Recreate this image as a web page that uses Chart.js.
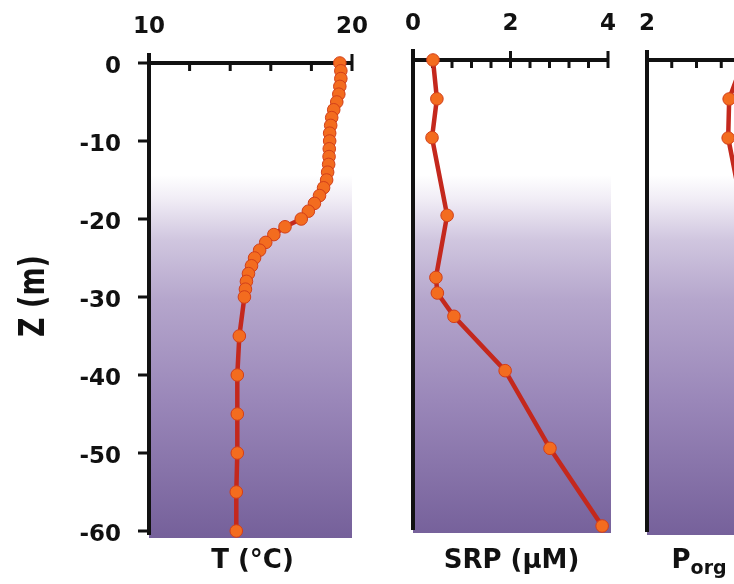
<!DOCTYPE html>
<html>
<head>
<meta charset="utf-8">
<script src="https://cdn.jsdelivr.net/npm/chart.js@4.4.0/dist/chart.umd.min.js"></script>
<style>
  html, body { margin: 0; padding: 0; background: #fff; width: 734px; height: 584px; overflow: hidden; }
  .panel { position: absolute; top: 0; }
</style>
</head>
<body>
<canvas id="tempChart" class="panel" style="left:0" width="380" height="584"></canvas>
<canvas id="srpChart" class="panel" style="left:380px" width="250" height="584"></canvas>
<canvas id="porgChart" class="panel" style="left:600px" width="300" height="584"></canvas>
<script>
// depth profiles (m, negative down)
const depthT = [0, -1, -2, -3, -4, -5, -6, -7, -8, -9, -10, -11, -12, -13, -14, -15, -16, -17, -18, -19, -20,
  -21, -22, -23, -24, -25, -26, -27, -28, -29, -30, -35, -40, -45, -50, -55, -60];
const tempC = [19.4, 19.45, 19.45, 19.4, 19.35, 19.25, 19.1, 19.0, 18.95, 18.9, 18.9, 18.88, 18.87, 18.85, 18.8,
  18.75, 18.6, 18.4, 18.15, 17.85, 17.5, 16.7, 16.15, 15.75, 15.45, 15.2, 15.05, 14.9, 14.8, 14.75, 14.7,
  14.45, 14.35, 14.35, 14.35, 14.3, 14.3];

const depthSRP = [0, -5, -10, -20, -28, -30, -33, -40, -50, -60];
const srpUM = [0.41, 0.49, 0.39, 0.70, 0.47, 0.50, 0.84, 1.89, 2.81, 3.88];

const depthPorg = [0, -5, -10, -20];
const porgUM = [3.95, 3.66, 3.64, 3.95];

const depthTicks = [0, -10, -20, -30, -40, -50, -60];
const tempTicks = [10, 12, 14, 16, 18, 20];
const tempLabels = [10, 20];
const srpTicks = [0, 0.4, 0.8, 1.2, 1.6, 2, 2.4, 2.8, 3.2, 3.6, 4];
const srpLabels = [0, 2, 4];
const porgTicks = [2, 2.5, 3, 3.5, 4, 4.5, 5, 5.5, 6];
const porgLabels = [2, 4, 6];

const FONT = 'DejaVu Sans';
const INK = '#111';
// background wash, by absolute canvas y
const bgStops = [[63, '#ffffff'], [175, '#ffffff'], [200, '#f0ecf5'], [240, '#d0c6df'],
  [300, '#b5a6cc'], [400, '#9a87b9'], [538, '#75609a']];

const profileFrame = {
  id: 'profileFrame',
  beforeDatasetsDraw(chart, args, opts) {
    const { ctx, chartArea: a, scales: { x, y } } = chart;
    ctx.save();
    const g = ctx.createLinearGradient(0, 0, 0, chart.height);
    bgStops.forEach(([yy, c]) => g.addColorStop(yy / chart.height, c));
    ctx.fillStyle = g;
    ctx.fillRect(a.left, a.top, a.right - a.left + opts.bgExtra, a.bottom - a.top);

    ctx.strokeStyle = INK;
    ctx.lineWidth = 4;
    ctx.beginPath();
    ctx.moveTo(a.left, a.top - opts.axisOver);
    ctx.lineTo(a.left, a.bottom - 3);
    ctx.moveTo(a.left - 2, a.top);
    ctx.lineTo(a.right, a.top);
    ctx.stroke();

    ctx.lineWidth = 3;
    ctx.beginPath();
    x.ticks.forEach(t => {
      const px = x.getPixelForValue(t.value);
      if (px <= a.left + 1) return;
      const major = t.label !== '';
      ctx.moveTo(px, major ? a.top - 9 : a.top);
      ctx.lineTo(px, a.top + 8);
    });
    if (opts.yTicks) {
      y.ticks.forEach(t => {
        const py = y.getPixelForValue(t.value);
        ctx.moveTo(a.left - 11, py);
        ctx.lineTo(a.left, py);
      });
    }
    ctx.stroke();
    ctx.restore();
  },
  afterDraw(chart, args, opts) {
    const { ctx, chartArea: a } = chart;
    ctx.save();
    ctx.fillStyle = INK;
    ctx.textBaseline = 'middle';
    // bottom label, built from segments so a subscript is possible
    const segs = opts.title;
    let total = 0;
    segs.forEach(s => { ctx.font = 'bold ' + s.size + 'px "' + FONT + '"'; s.w = ctx.measureText(s.text).width; total += s.w; });
    let cx = (a.left + a.right) / 2 - total / 2 + opts.titleShift;
    segs.forEach(s => {
      ctx.font = 'bold ' + s.size + 'px "' + FONT + '"';
      ctx.textAlign = 'left';
      ctx.fillText(s.text, cx, 561 + s.dy);
      cx += s.w;
    });
    if (opts.zTitle) {
      ctx.translate(35, 296);
      ctx.rotate(-Math.PI / 2);
      ctx.scale(1, 1.3);
      ctx.font = 'bold 27px "' + FONT + '"';
      ctx.textAlign = 'center';
      ctx.fillText(opts.zTitle, 0, 0);
    }
    ctx.restore();
  }
};

const tickFont = { family: FONT, size: 23, weight: 'bold' };

function profileChart(id, xs, ys, xOpt, frame, layoutPad, yOpt) {
  return new Chart(id, {
    type: 'scatter',
    data: {
      datasets: [{
        data: xs.map((v, i) => ({ x: v, y: ys[i] })),
        showLine: true,
        borderColor: '#c4281d',
        borderWidth: 4.5,
        pointRadius: 6.3,
        pointBackgroundColor: '#f36c1f',
        pointBorderColor: '#d23f1a',
        pointBorderWidth: 1,
        tension: 0,
        clip: false
      }]
    },
    options: {
      responsive: false,
      animation: false,
      events: [],
      layout: { padding: layoutPad },
      plugins: { legend: { display: false }, tooltip: { enabled: false }, profileFrame: frame },
      scales: {
        x: {
          type: 'linear', position: 'top', min: xOpt.min, max: xOpt.max,
          afterBuildTicks: s => { s.ticks = xOpt.ticks.map(v => ({ value: v })); },
          afterFit: s => { s.height = xOpt.top; },
          // tick marks are drawn by profileFrame; tickLength only spaces the labels
          grid: { display: false, drawTicks: true, tickLength: 22 },
          border: { display: false },
          ticks: {
            padding: 0, maxRotation: 0, autoSkip: false, color: INK, font: tickFont,
            callback: v => xOpt.labels.includes(v) ? String(v) : ''
          }
        },
        y: Object.assign({
          type: 'linear', position: 'left', min: -60.9, max: 0,
          grid: { display: false, drawTicks: true, tickLength: 28 },
          border: { display: false }
        }, yOpt)
      }
    },
    plugins: [profileFrame]
  });
}

profileChart('tempChart', tempC, depthT,
  { min: 10, max: 20, ticks: tempTicks, labels: tempLabels, top: 63 },
  { title: [{ text: 'T (°C)', size: 26, dy: 0 }], titleShift: 2, zTitle: 'Z (m)', yTicks: true, axisOver: 10, bgExtra: 0 },
  { left: 0, right: 28, top: 0, bottom: 46 },
  {
    display: true,
    afterBuildTicks: s => { s.ticks = depthTicks.map(v => ({ value: v })); },
    afterFit: s => { s.width = 149; },
    ticks: { padding: 0, labelOffset: 4, color: INK, font: tickFont, autoSkip: false, callback: v => String(v) }
  });

profileChart('srpChart', srpUM, depthSRP,
  { min: 0, max: 4, ticks: srpTicks, labels: srpLabels, top: 60 },
  { title: [{ text: 'SRP (µM)', size: 26, dy: 0 }], titleShift: 1, yTicks: false, axisOver: 11, bgExtra: 3 },
  { left: 33, right: 22, top: 0, bottom: 51 },
  { display: false });

profileChart('porgChart', porgUM, depthPorg,
  { min: 2, max: 6, ticks: porgTicks, labels: porgLabels, top: 60 },
  { title: [{ text: 'P', size: 26, dy: 0 }, { text: 'org', size: 19, dy: 8 }, { text: ' (µM)', size: 26, dy: 0 }],
    titleShift: -8, yTicks: false, axisOver: 10, bgExtra: 0 },
  { left: 47, right: 55, top: 0, bottom: 49 },
  { display: false });
</script>
</body>
</html>
